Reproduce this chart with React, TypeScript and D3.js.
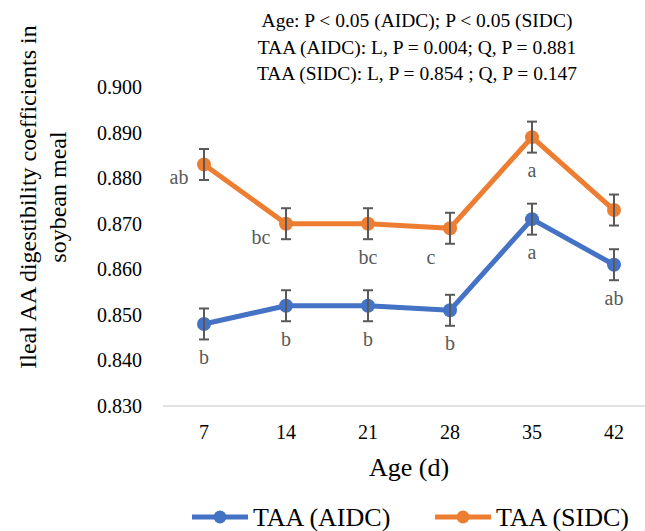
import React from "react";
import * as d3 from "d3";

const ages = ["7", "14", "21", "28", "35", "42"];
const aidc = [0.848, 0.852, 0.852, 0.851, 0.871, 0.861];
const sidc = [0.883, 0.870, 0.870, 0.869, 0.889, 0.873];
const aidcErr = [0.0034, 0.0034, 0.0034, 0.0034, 0.0034, 0.0034];
const sidcErr = [0.0034, 0.0034, 0.0034, 0.0034, 0.0034, 0.0034];
const aidcLetters = ["b", "b", "b", "b", "a", "ab"];
const sidcLetters = ["ab", "bc", "bc", "c", "a", "b"];
const aidcLetterPos = ["below", "below", "below", "below", "below", "below"];
const sidcLetterPos = ["left", "left", "below", "leftbelow", "below", "right"];
const yTicks = [0.83, 0.84, 0.85, 0.86, 0.87, 0.88, 0.89, 0.9];
const titleLines = [
  "Age: P < 0.05 (AIDC); P < 0.05 (SIDC)",
  "TAA (AIDC): L, P = 0.004; Q, P = 0.881",
  "TAA (SIDC): L, P = 0.854 ; Q, P = 0.147",
];
const seriesNames = ["TAA (AIDC)", "TAA (SIDC)"];

const W = 645;
const H = 531;
const BLUE = "#4472C4";
const ORANGE = "#ED7D31";
const FONT = "Liberation Serif, DejaVu Serif, serif";
const LABEL_GREY = "#595959";

export default function App() {
  const x = d3.scaleBand<string>().domain(ages).range([163, 655]);
  const cx = (a: string) => (x(a) as number) + x.bandwidth() / 2;
  const y = d3.scaleLinear().domain([0.83, 0.9]).range([406, 87]);
  const line = d3
    .line<number>()
    .x((_, i) => cx(ages[i]))
    .y((d) => y(d));

  const offsets: Record<string, [number, number, string]> = {
    below: [0, 33, "middle"],
    left: [-25, 13, "middle"],
    leftbelow: [-19, 29, "middle"],
    right: [40, 9, "middle"],
  };

  const series = [
    { vals: aidc, err: aidcErr, color: BLUE, letters: aidcLetters, pos: aidcLetterPos },
    { vals: sidc, err: sidcErr, color: ORANGE, letters: sidcLetters, pos: sidcLetterPos },
  ];

  return (
    <svg
      width={W}
      height={H}
      style={{ position: "absolute", left: 0, top: 0, background: "#fff", fontFamily: FONT }}
    >
      <rect width={W} height={H} fill="#fff" />
      {titleLines.map((t, i) => (
        <text key={i} x={417} y={27 + i * 26.5} textAnchor="middle" fontSize={19.5} fill="#000" style={{ fontFamily: FONT }}>
          {t}
        </text>
      ))}
      <g transform="translate(0,197) rotate(-90)" style={{ fontFamily: FONT }}>
        <text x={0} y={36} textAnchor="middle" fontSize={24} fill="#000">
          Ileal AA digestibility coefficients in
        </text>
        <text x={0} y={66} textAnchor="middle" fontSize={24} fill="#000">
          soybean meal
        </text>
      </g>
      <g style={{ fontFamily: FONT }}>
        {yTicks.map((t) => (
          <text key={t} x={142} y={y(t)} dy="0.35em" textAnchor="end" fontSize={20} fill="#000">
            {d3.format(".3f")(t)}
          </text>
        ))}
        <line x1={163} x2={655} y1={y(0.83)} y2={y(0.83)} stroke="#D9D9D9" strokeWidth={1.5} />
        {ages.map((a) => (
          <text key={a} x={cx(a)} y={432} dy="0.35em" textAnchor="middle" fontSize={20} fill="#000">
            {a}
          </text>
        ))}
        <text x={409} y={467} dy="0.35em" textAnchor="middle" fontSize={26} fill="#000">
          Age (d)
        </text>
        {series.map((s, si) => (
          <g key={si}>
            <path d={line(s.vals) || ""} fill="none" stroke={s.color} strokeWidth={5} strokeLinejoin="round" />
            {s.vals.map((v, i) => (
              <circle key={i} cx={cx(ages[i])} cy={y(v)} r={7} fill={s.color} />
            ))}
            {s.vals.map((v, i) => {
              const px = cx(ages[i]);
              const t = y(v + s.err[i]);
              const b = y(v - s.err[i]);
              return (
                <g key={"e" + i} stroke="#595959" strokeWidth={2}>
                  <line x1={px} x2={px} y1={t} y2={b} />
                  <line x1={px - 5} x2={px + 5} y1={t} y2={t} />
                  <line x1={px - 5} x2={px + 5} y1={b} y2={b} />
                </g>
              );
            })}
            {s.vals.map((v, i) => {
              const o = offsets[s.pos[i]];
              return (
                <text
                  key={"l" + i}
                  x={cx(ages[i]) + o[0]}
                  y={y(v) + o[1]}
                  dy="0.35em"
                  textAnchor={o[2] as any}
                  fontSize={20}
                  fill={LABEL_GREY}
                >
                  {s.letters[i]}
                </text>
              );
            })}
          </g>
        ))}
        {seriesNames.map((n, i) => {
          const lx = i === 0 ? 192 : 435;
          return (
            <g key={n}>
              <line x1={lx} x2={lx + 56} y1={517} y2={517} stroke={series[i].color} strokeWidth={5} />
              <circle cx={lx + 28} cy={517} r={6.5} fill={series[i].color} />
              <text x={lx + 61} y={517} dy="0.35em" fontSize={26} fill="#000">
                {n}
              </text>
            </g>
          );
        })}
      </g>
    </svg>
  );
}
